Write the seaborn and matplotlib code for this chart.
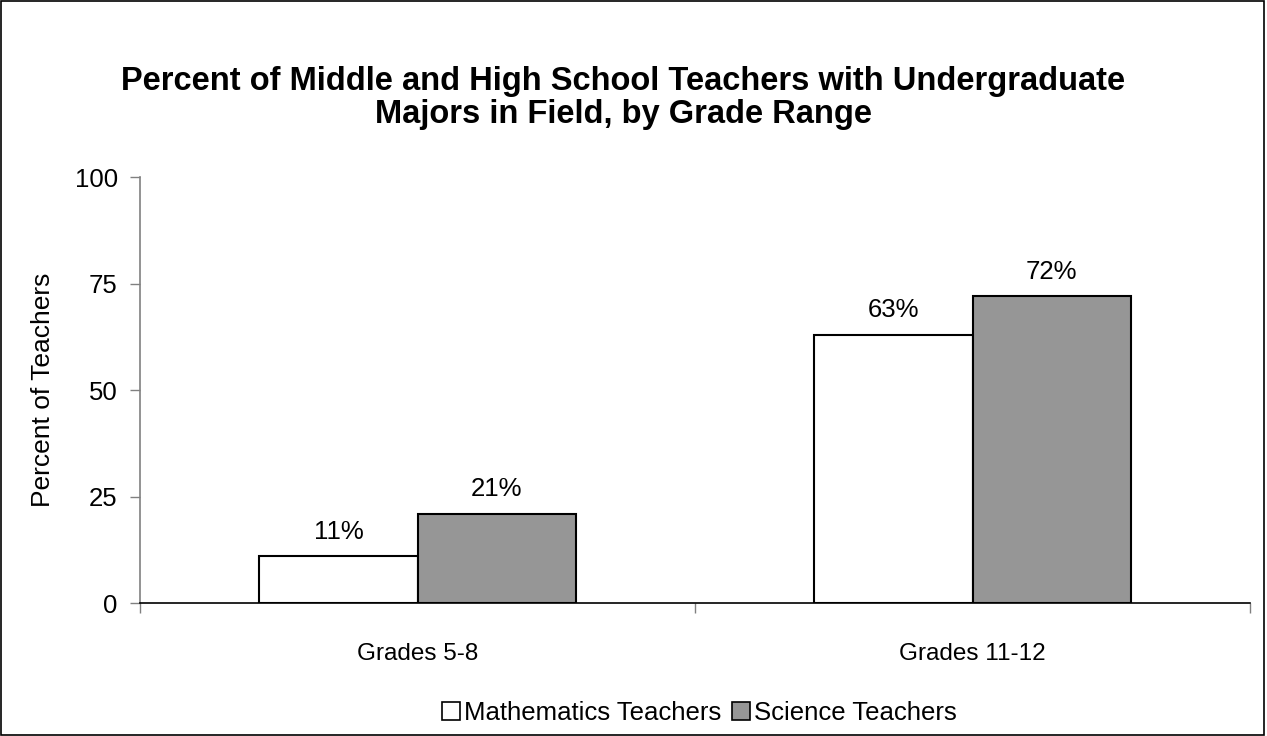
import pandas as pd
import matplotlib
matplotlib.use("Agg")
import matplotlib.pyplot as plt
import seaborn as sns
from matplotlib.patches import Rectangle

grades = ["Grades 5-8", "Grades 11-12"]
math_pct = [11, 63]
science_pct = [21, 72]
series = ["Mathematics Teachers", "Science Teachers"]
colors = ["#ffffff", "#969696"]

df = pd.DataFrame({
    "Grade": grades * 2,
    "Percent": math_pct + science_pct,
    "Group": [series[0]] * 2 + [series[1]] * 2,
})

sns.set_style("white")
plt.rcParams["font.family"] = ["Liberation Sans", "DejaVu Sans"]
plt.rcParams["text.color"] = "black"
plt.rcParams["axes.labelcolor"] = "black"
plt.rcParams["xtick.labelcolor"] = "black"
plt.rcParams["ytick.labelcolor"] = "black"

fig = plt.figure(figsize=(12.67, 7.36), dpi=100)
ax = fig.add_axes([0.1105, 0.1807, 0.8761, 0.5788])

sns.barplot(data=df, x="Grade", y="Percent", hue="Group", order=grades,
            hue_order=series, palette=colors, width=0.57, gap=0,
            edgecolor="black", linewidth=1.5, ax=ax, legend=False)

# value labels
for cont in ax.containers:
    ax.bar_label(cont, labels=[f"{v:.0f}%" for v in cont.datavalues],
                 padding=9, fontsize=18.5)

ax.set_ylim(0, 100)
ax.set_yticks([0, 25, 50, 75, 100])
ax.set_xlim(-0.5, 1.5)
ax.set_xticks([-0.5, 0.5, 1.5], minor=True)
ax.tick_params(axis="x", which="major", length=0, labelsize=17.5, pad=29)
ax.tick_params(axis="x", which="minor", length=7, width=1, direction="out",
               color="#808080", bottom=True)
ax.tick_params(axis="y", length=7, width=1, direction="out", color="#808080",
               labelsize=18.5, left=True, pad=9)
ax.set_xlabel("")
ax.set_ylabel("Percent of Teachers", fontsize=19, labelpad=14)

for s in ["top", "right"]:
    ax.spines[s].set_visible(False)
ax.spines["left"].set_color("#808080")
ax.spines["bottom"].set_color("black")
ax.spines["left"].set_linewidth(1.2)
ax.spines["bottom"].set_linewidth(1.2)

fig.suptitle("Percent of Middle and High School Teachers with Undergraduate\n"
             "Majors in Field, by Grade Range",
             fontsize=23.5, fontweight="bold", x=0.492, y=0.911, linespacing=1.12)

handles = [Rectangle((0, 0), 1, 1, facecolor=c, edgecolor="black", linewidth=1.2)
           for c in colors]
fig.legend(handles, series, loc="center", bbox_to_anchor=(0.552, 0.031),
           ncol=2, frameon=False, fontsize=18.5, handlelength=0.7,
           handleheight=0.7, handletextpad=0.15, columnspacing=0.4)

fig.patches.append(Rectangle((0.001, 0.002), 0.997, 0.996, transform=fig.transFigure,
                             fill=False, edgecolor="black", linewidth=1.2))

fig.savefig("out.png", dpi=100)
